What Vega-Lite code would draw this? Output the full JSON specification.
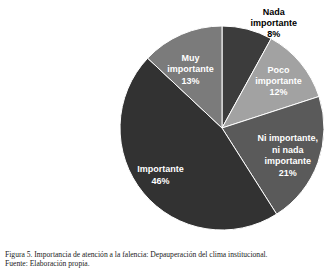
{
  "$schema": "https://vega.github.io/schema/vega-lite/v6.json",
  "width": 204,
  "height": 204,
  "autosize": {"type": "none"},
  "padding": {"left": 120, "top": 26, "right": 4, "bottom": 50},
  "background": "white",
  "view": {"stroke": null},
  "title": {
    "text": "Figura 5. Importancia de atención a la falencia: Depauperación del clima institucional.",
    "subtitle": "Fuente: Elaboración propia.",
    "orient": "bottom",
    "anchor": "start",
    "frame": "group",
    "dx": -115,
    "offset": 19,
    "font": "Liberation Serif",
    "fontSize": 7.6,
    "fontWeight": "normal",
    "color": "#222",
    "subtitleFont": "Liberation Serif",
    "subtitleFontSize": 7.6,
    "subtitleColor": "#222",
    "subtitlePadding": 1
  },
  "data": {
    "values": [
      {"cat": "Nada importante", "orden": 1, "pct": 8, "label": "Nada\nimportante\n8%"},
      {"cat": "Poco importante", "orden": 2, "pct": 12, "label": "Poco\nimportante\n12%"},
      {"cat": "Ni importante, ni nada importante", "orden": 3, "pct": 21, "label": "Ni importante,\nni nada\nimportante\n21%"},
      {"cat": "Importante", "orden": 4, "pct": 46, "label": "Importante\n46%"},
      {"cat": "Muy importante", "orden": 5, "pct": 13, "label": "Muy\nimportante\n13%"}
    ]
  },
  "encoding": {
    "theta": {"field": "pct", "type": "quantitative", "stack": true},
    "order": {"field": "orden", "type": "quantitative"},
    "text": {"field": "label"}
  },
  "layer": [
    {
      "mark": {"type": "arc", "radius": 102, "stroke": "white", "strokeWidth": 1},
      "encoding": {
        "color": {
          "field": "cat",
          "type": "nominal",
          "legend": null,
          "scale": {
            "domain": ["Nada importante", "Poco importante", "Ni importante, ni nada importante", "Importante", "Muy importante"],
            "range": ["#3c3c3c", "#a2a2a2", "#5a5a5a", "#323232", "#7b7b7b"]
          }
        }
      }
    },
    {
      "mark": {"type": "text", "radius": 108, "dx": 25, "dy": -11, "font": "Liberation Sans", "fontWeight": "bold", "fontSize": 9, "lineBreak": "\n", "lineHeight": 11, "align": "center", "baseline": "middle", "color": "black"},
      "encoding": {"opacity": {"condition": {"test": "datum.orden === 1", "value": 1}, "value": 0}}
    },
    {
      "mark": {"type": "text", "radius": 72, "dx": 1, "dy": -12, "font": "Liberation Sans", "fontWeight": "bold", "fontSize": 9, "lineBreak": "\n", "lineHeight": 11, "align": "center", "baseline": "middle", "color": "white"},
      "encoding": {"opacity": {"condition": {"test": "datum.orden === 2", "value": 1}, "value": 0}}
    },
    {
      "mark": {"type": "text", "radius": 72, "dx": -2, "dy": -14, "font": "Liberation Sans", "fontWeight": "bold", "fontSize": 9, "lineBreak": "\n", "lineHeight": 11.5, "align": "center", "baseline": "middle", "color": "white"},
      "encoding": {"opacity": {"condition": {"test": "datum.orden === 3", "value": 1}, "value": 0}}
    },
    {
      "mark": {"type": "text", "radius": 72, "dx": -6, "dy": -5, "font": "Liberation Sans", "fontWeight": "bold", "fontSize": 9, "lineBreak": "\n", "lineHeight": 12, "align": "center", "baseline": "middle", "color": "white"},
      "encoding": {"opacity": {"condition": {"test": "datum.orden === 4", "value": 1}, "value": 0}}
    },
    {
      "mark": {"type": "text", "radius": 72, "dx": -3, "dy": -4, "font": "Liberation Sans", "fontWeight": "bold", "fontSize": 9, "lineBreak": "\n", "lineHeight": 11.5, "align": "center", "baseline": "middle", "color": "white"},
      "encoding": {"opacity": {"condition": {"test": "datum.orden === 5", "value": 1}, "value": 0}}
    }
  ]
}
